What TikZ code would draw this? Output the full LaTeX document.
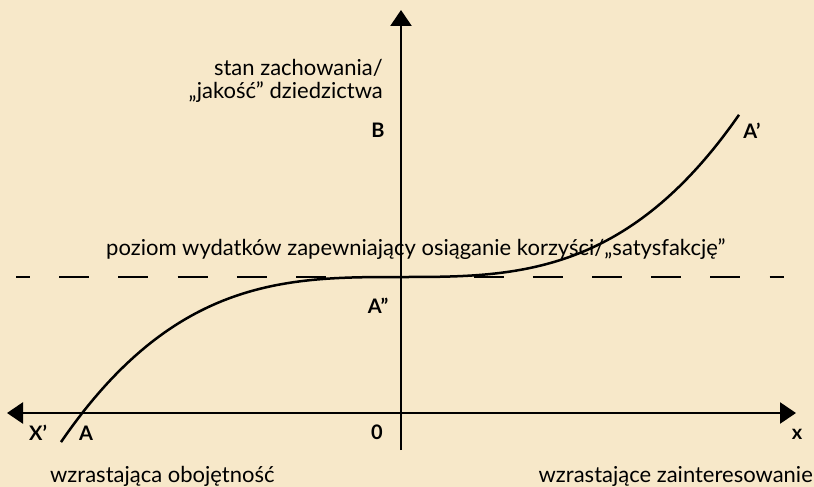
\documentclass[tikz,border=0pt]{standalone}
\usepackage{fontspec}
\setmainfont{Lato}
\usetikzlibrary{arrows.meta}
\definecolor{bg}{RGB}{247,232,201}
\tikzset{
  axisline/.style={line width=2.5pt, -{Triangle[length=16pt,width=21pt]}},
  lbl/.style={font=\fontsize{20}{23}\selectfont\bfseries, inner sep=0pt},
  txt/.style={font=\fontsize{22}{26}\selectfont, inner sep=0pt},
}
\begin{document}
\begin{tikzpicture}[x=1pt,y=-1pt]
\fill[bg] (0,0) rectangle (814,487);
\useasboundingbox (0,0) rectangle (814,487);
% axes
\coordinate (ybot) at (401,450);
\coordinate (ytop) at (401,10);
\coordinate (xmid) at (401,413);
\coordinate (xleft) at (7,413);
\coordinate (xright) at (796,413);
\draw[axisline] (ybot) -- (ytop);
\draw[axisline] (xmid) -- (xright);
\draw[axisline] (xmid) -- (xleft);
% dashed level
\coordinate (dl) at (16,277);
\coordinate (dr) at (784,277);
\draw[line width=2.5pt, dash pattern=on 30pt off 29.2pt, dash phase=16pt] (dl) -- (dr);
% curve
\draw[line width=2.5pt] plot[domain=-340:338, samples=120, smooth] ({401+\x},{277-4.2*(\x/100)^3});
% labels
\node[txt, anchor=base east] (t1) at (383,75) {stan zachowania/};
\node[txt, anchor=base east] (t2) at (383,99) {„jakość” dziedzictwa};
\node[txt, anchor=base west] (t3) at (106,255) {poziom wydatków zapewniający osiąganie korzyści/„satysfakcję”};
\node[txt, anchor=base west] (t4) at (50,482) {wzrastająca obojętność};
\node[txt, anchor=base east] (t5) at (813,482) {wzrastające zainteresowanie};
\node[lbl] (B) at (378,130) {B};
\node[lbl] (Ap) at (752,131) {A’};
\node[lbl] (App) at (378,306) {A”};
\node[lbl] (O) at (377,432) {0};
\node[lbl] (Xp) at (38,433) {X’};
\node[lbl] (A) at (86,433) {A};
\node[lbl] (x) at (797,434) {x};
\end{tikzpicture}
\end{document}
